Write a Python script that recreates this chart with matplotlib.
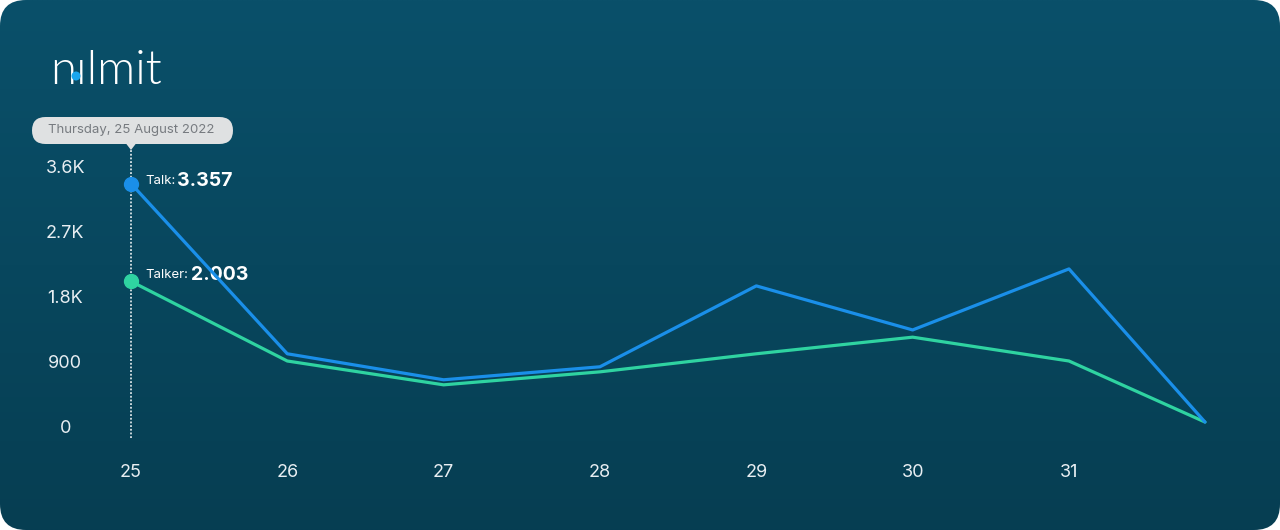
import numpy as np
import matplotlib
matplotlib.use('Agg')
import matplotlib.pyplot as plt
from matplotlib.patches import FancyBboxPatch, Polygon, Circle
from matplotlib.colors import LinearSegmentedColormap

plt.rcParams['font.family'] = ['Inter', 'DejaVu Sans']

# --- data ---
days = [25, 26, 27, 28, 29, 30, 31, 31.87]
day_ticks = [25, 26, 27, 28, 29, 30, 31]
talk = [3357, 1000, 640, 820, 1940, 1330, 2175, 55]
talker = [2003, 900, 570, 750, 1000, 1230, 900, 55]
y_ticks = [0, 900, 1800, 2700, 3600]
y_tick_labels = ['0', '900', '1.8K', '2.7K', '3.6K']
tooltip_date = 'Thursday, 25 August 2022'

BLUE = '#1a8fe9'
GREEN = '#2fd3a1'
TXT = '#e8eef2'
W, H = 1280, 530

fig = plt.figure(figsize=(W / 100, H / 100), dpi=100)
fig.patch.set_facecolor('white')
inch = fig.dpi_scale_trans

def px(x, y):
    # pixel coords (top-left origin) -> inches
    return x / 100, (H - y) / 100

# background card with gradient + rounded corners
bg = fig.add_axes([0, 0, 1, 1])
bg.set_axis_off()
grad = np.linspace(0, 1, 256)[:, None] * np.ones((1, 256))
cmap_bg = LinearSegmentedColormap.from_list('bg', ['#0a506a', '#063e52'])
im = bg.imshow(grad, cmap=cmap_bg, aspect='auto', extent=[0, 1, 1, 0])
card = FancyBboxPatch((0, 0), W / 100, H / 100,
                      boxstyle='round,pad=0,rounding_size=0.26', transform=inch,
                      facecolor='none', edgecolor='none')
fig.add_artist(card)
im.set_clip_path(card)

# main plot axes
ax = fig.add_axes([100 / W, 85 / H, 1140 / W, 305 / H])
ax.set_facecolor('none')
for s in ax.spines.values():
    s.set_visible(False)
ax.set_xlim(24.802, 32.094)
ax.set_ylim(-263, 3960)

ax.plot(days, talker, color=GREEN, lw=2.3, solid_capstyle='round', zorder=3)
ax.plot(days, talk, color=BLUE, lw=2.3, solid_capstyle='round', zorder=4)

# hover cursor
ax.axvline(days[0], ymin=0.023, ymax=0.967, color='white', lw=1.1, ls=(0, (1.2, 1.2)), zorder=2)
ax.plot(days[0], talk[0], 'o', color=BLUE, ms=10, zorder=5)
ax.plot(days[0], talker[0], 'o', color=GREEN, ms=10, zorder=5)

ax.annotate('Talk:', (days[0], talk[0]), xytext=(14, 3), textcoords='offset pixels',
            color='white', fontsize=9.5, va='center', ha='left')
ax.annotate(f'{talk[0] / 1000:.3f}', (days[0], talk[0]), xytext=(46, 3), textcoords='offset pixels',
            color='white', fontsize=14, fontweight='bold', va='center', ha='left')
ax.annotate('Talker:', (days[0], talker[0]), xytext=(14, 6), textcoords='offset pixels',
            color='white', fontsize=9.5, va='center', ha='left')
ax.annotate(f'{talker[0] / 1000:.3f}', (days[0], talker[0]), xytext=(60, 6), textcoords='offset pixels',
            color='white', fontsize=14, fontweight='bold', va='center', ha='left')

ax.set_xticks(day_ticks)
ax.set_xticklabels([str(d) for d in day_ticks])
ax.set_yticks(y_ticks)
ax.set_yticklabels(y_tick_labels)
ax.tick_params(axis='x', length=0, pad=14, labelsize=13, labelcolor=TXT)
ax.tick_params(axis='y', length=0, pad=25, labelsize=13, labelcolor=TXT)
for lab in ax.get_yticklabels():
    lab.set_horizontalalignment('center')

# tooltip
x0, y0 = px(32, 144)
tip = FancyBboxPatch((x0, y0), 2.01, 0.27, boxstyle='round,pad=0,rounding_size=0.135',
                     transform=inch, facecolor='#dfe1e2', edgecolor='none', zorder=6)
fig.add_artist(tip)
fig.add_artist(Polygon([px(126, 143.5), px(136, 143.5), px(131, 150)], closed=True,
                       transform=inch, facecolor='#dfe1e2', edgecolor='none', zorder=6))
tx, ty = px(131, 130.5)
fig.text(tx, ty, tooltip_date, transform=inch, ha='center', va='center',
         fontsize=9.5, color='#777b80', zorder=7)

# logo
lx, ly = px(50, 71)
fig.text(lx, ly, 'n\u0131lmit', transform=inch, ha='left', va='center',
         fontsize=34, color='white', fontweight=300, family=['Lato', 'DejaVu Sans'], zorder=7)
cx, cy = px(76, 76)
fig.add_artist(Circle((cx, cy), 0.045, transform=inch, facecolor='#1aa6ee', edgecolor='none', zorder=8))

fig.savefig('out.png', dpi=100, facecolor='white')
